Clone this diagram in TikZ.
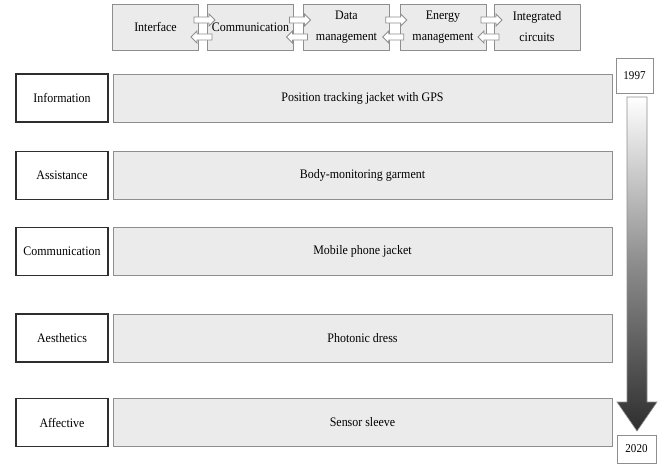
\documentclass[tikz,border=0pt]{standalone}
\usepackage{fontspec}
\setmainfont[FakeStretch=0.92]{Liberation Serif}
\usepackage{xcolor}
\definecolor{edge}{HTML}{8E8E8E}
\definecolor{dark}{HTML}{2E2E2E}
\definecolor{panel}{HTML}{EBEBEB}
\usetikzlibrary{arrows.meta,calc,shapes.arrows}
\tikzset{
  stage/.style={draw=edge,line width=1pt,fill=panel,minimum width=86pt,minimum height=46pt,inner sep=1pt,align=center,font=\fontsize{13}{21}\selectfont},
  cat/.style={draw=dark,line width=1.6pt,fill=white,minimum width=92pt,minimum height=48pt,inner sep=1pt,font=\fontsize{13}{15}\selectfont},
  app/.style={draw=edge,line width=1pt,fill=panel,minimum width=499pt,minimum height=48pt,font=\fontsize{13}{15}\selectfont},
  year/.style={draw=edge,line width=0.8pt,fill=white,inner sep=1pt,font=\fontsize{12}{14}\selectfont},
  flow/.style={single arrow,draw=edge,fill=white,line width=0.8pt,minimum height=21pt,minimum width=12pt,inner sep=2.6pt,single arrow head extend=3pt},
}
\begin{document}
\begin{tikzpicture}[x=1pt,y=-1pt]
\useasboundingbox (0,0) rectangle (663,467);
% technology row
\foreach \i/\x/\t in {1/155.5/Interface,2/250.5/Communication,3/346.5/{Data\\management},4/443/{Energy\\management},5/537/{Integrated\\circuits}}
  \node[stage] (t\i) at (\x,27) {\t};
\foreach \i in {1,...,4}{
  \pgfmathtruncatemacro\j{\i+1}
  \coordinate (m\i) at ($(t\i.east)!0.5!(t\j.west)$);
  \node[flow] (fr\i) at ($(m\i)+(0,-7)$) {};
  \node[flow,shape border rotate=180] (fl\i) at ($(m\i)+(0,10)$) {};}
% application rows
\foreach \i/\y/\c/\a in {1/98/Information/Position tracking jacket with GPS,
  2/175.5/Assistance/Body-monitoring garment,
  3/251.5/Communication/Mobile phone jacket,
  4/338/Aesthetics/Photonic dress,
  5/422.5/Affective/Sensor sleeve}{
  \node[cat] (c\i) at (62,\y) {\c};
  \node[app] (a\i) at (362.5,\y) {\a};}
% time line
\node[year,minimum width=37pt,minimum height=35pt] (y1) at (634.5,75.5) {1997};
\node[year,minimum width=39pt,minimum height=28pt] (y2) at (636.5,449) {2020};
\path[draw=edge,line width=0.6pt,top color=white,bottom color=dark,middle color=black!45]
  (627,97) -- (647,97) -- (647,402) -- (657,402) -- (637,431) -- (617,402) -- (627,402) -- cycle;
\end{tikzpicture}
\end{document}
